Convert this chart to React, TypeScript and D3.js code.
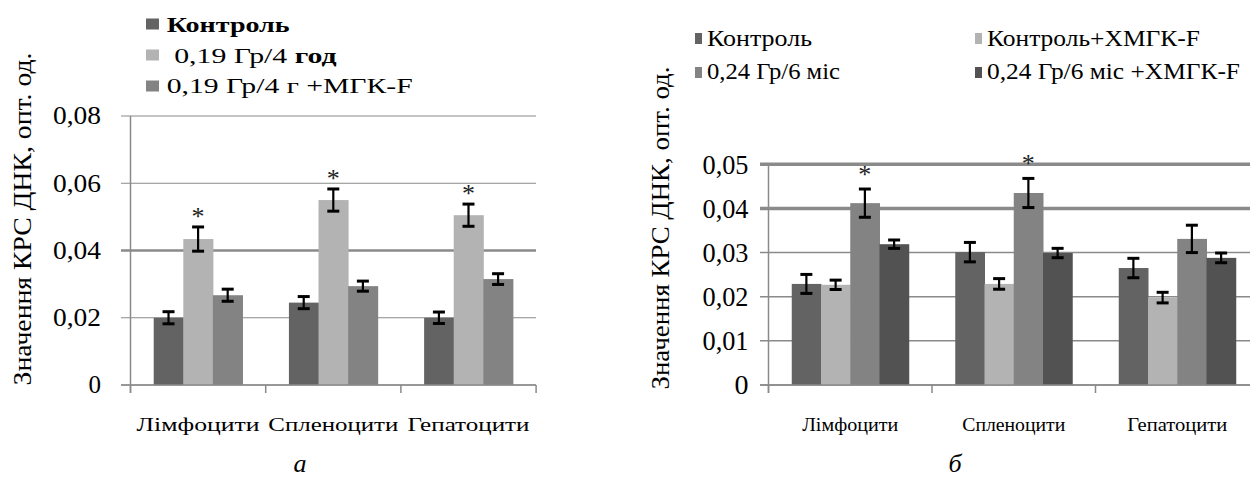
import React from 'react'
import * as d3 from 'd3'

// categories and series
const categories = ['Лімфоцити', 'Спленоцити', 'Гепатоцити']

const leftSeries = ['Контроль', ' 0,19 Гр/4 год', '0,19 Гр/4 г +МГК-F']
const leftValues = [
  [0.02, 0.0245, 0.02],
  [0.0434, 0.055, 0.0505],
  [0.0267, 0.0294, 0.0315],
]
const leftErrors = [
  [0.0018, 0.0018, 0.0017],
  [0.0036, 0.0033, 0.0033],
  [0.0018, 0.0015, 0.0016],
]
const leftStars = [
  [false, false, false],
  [true, true, true],
  [false, false, false],
]
const leftTicks = [0, 0.02, 0.04, 0.06, 0.08]
const leftTickLabels = ['0', '0,02', '0,04', '0,06', '0,08']

const rightSeries = ['Контроль', 'Контроль+ХМГК-F', '0,24 Гр/6 міс', '0,24 Гр/6 міс +ХМГК-F']
const rightValues = [
  [0.0229, 0.0301, 0.0265],
  [0.0227, 0.0229, 0.0198],
  [0.0412, 0.0435, 0.0331],
  [0.0319, 0.0299, 0.0288],
]
const rightErrors = [
  [0.00215, 0.0022, 0.0022],
  [0.00106, 0.0012, 0.0012],
  [0.0032, 0.0033, 0.0031],
  [0.00095, 0.00106, 0.0011],
]
const rightStars = [
  [false, false, false],
  [false, false, false],
  [true, true, false],
  [false, false, false],
]
const rightTicks = [0, 0.01, 0.02, 0.03, 0.04, 0.05]
const rightTickLabels = ['0', '0,01', '0,02', '0,03', '0,04', '0,05']

const yTitle = 'Значення КРС ДНК, опт. од.'

const leftColors = ['#636363', '#b3b3b3', '#838383']
const rightColors = ['#636363', '#b3b3b3', '#838383', '#525252']
const gridColor = '#8a8a8a'
const FONT = 'Liberation Serif'

type PanelProps = {
  values: number[][]
  errors: number[][]
  stars: boolean[][]
  colors: string[]
  ticks: number[]
  tickLabels: string[]
  thickTicks: number[]
  axisX: number
  bandW: number
  top: number
  bottom: number
  gridStart: number
  gridEnd: number
  groupPad: number
  tickLabelX: number
  tickFont: number
  tickLen: number
  thick: number
  thin: number
  starGap: number
  labelLens: number[]
  labelY: number
}

const Panel = (p: PanelProps) => {
  const y = d3.scaleLinear().domain([0, p.ticks[p.ticks.length - 1]]).range([p.bottom, p.top])
  const x0 = d3
    .scaleBand<string>()
    .domain(categories)
    .range([p.axisX, p.axisX + p.bandW * categories.length])
  const x1 = d3
    .scaleBand<number>()
    .domain(d3.range(p.values.length))
    .range([0, x0.bandwidth()])
    .paddingOuter(p.groupPad)
  const bw = x1.bandwidth()
  return (
    <g>
      {p.ticks.map((t, i) => (
        <g key={'t' + i}>
          <line
            x1={p.gridStart}
            x2={p.gridEnd}
            y1={y(t)}
            y2={y(t)}
            stroke={gridColor}
            strokeWidth={p.thickTicks.includes(t) ? p.thick : p.thin}
          />
          <text
            x={p.tickLabelX}
            y={y(t) + p.tickFont * 0.33}
            textAnchor='end'
            fontFamily={FONT}
            fontSize={p.tickFont}
            fill='#000'
            textLength={p.tickLabels[i].length > 1 ? p.tickLen : undefined}
            lengthAdjust='spacingAndGlyphs'
          >
            {p.tickLabels[i]}
          </text>
        </g>
      ))}
      <line x1={p.axisX} x2={p.axisX} y1={y(p.ticks[p.ticks.length - 1])} y2={p.bottom + 8} stroke={gridColor} strokeWidth={1.5} />
      {d3.range(categories.length + 1).map((i) => (
        <line
          key={'c' + i}
          x1={p.axisX + i * p.bandW}
          x2={p.axisX + i * p.bandW}
          y1={p.bottom}
          y2={p.bottom + 8}
          stroke={gridColor}
          strokeWidth={1.5}
        />
      ))}
      {p.values.map((row, s) =>
        row.map((v, c) => {
          const bx = (x0(categories[c]) as number) + (x1(s) as number)
          const cx = bx + bw / 2
          const e = p.errors[s][c]
          const yt = y(v + e)
          const yb = y(v - e)
          return (
            <g key={`b${s}-${c}`}>
              <rect x={bx} y={y(v)} width={bw + 0.5} height={p.bottom - y(v)} fill={p.colors[s]} />
              <line x1={cx} x2={cx} y1={yt} y2={yb} stroke='#000' strokeWidth={2.2} />
              <line x1={cx - 6} x2={cx + 6} y1={yt} y2={yt} stroke='#000' strokeWidth={3} />
              <line x1={cx - 6} x2={cx + 6} y1={yb} y2={yb} stroke='#000' strokeWidth={3} />
              {p.stars[s][c] && (
                <text x={cx} y={yt - p.starGap + 13} textAnchor='middle' fontFamily={FONT} fontSize={26} fill='#222'>
                  *
                </text>
              )}
            </g>
          )
        })
      )}
      <line x1={p.gridStart} x2={p.gridEnd} y1={p.bottom} y2={p.bottom} stroke={gridColor} strokeWidth={1.5} />
      {categories.map((c, i) => (
        <text
          key={'l' + i}
          x={(x0(c) as number) + p.bandW / 2}
          y={p.labelY}
          textAnchor='middle'
          fontFamily={FONT}
          fontSize={19}
          textLength={p.labelLens[i]}
          lengthAdjust='spacingAndGlyphs'
        >
          {c}
        </text>
      ))}
    </g>
  )
}

const App = () => {
  return (
    <svg width={1250} height={479} style={{ position: 'absolute', left: 0, top: 0, background: '#fff' }}>
      <rect width={1250} height={479} fill='#fff' />
      {/* panel а */}
      <Panel
        values={leftValues}
        errors={leftErrors}
        stars={leftStars}
        colors={leftColors}
        ticks={leftTicks}
        tickLabels={leftTickLabels}
        thickTicks={[0.04]}
        axisX={130.5}
        bandW={135.2}
        top={116}
        bottom={385}
        gridStart={121}
        gridEnd={536}
        groupPad={0.785}
        tickLabelX={101}
        tickFont={25}
        tickLen={48}
        thick={2.5}
        thin={1.2}
        starGap={15}
        labelLens={[123, 130, 122]}
        labelY={431}
      />
      <text
        transform='translate(31,219) rotate(-90)'
        textAnchor='middle'
        fontFamily={FONT}
        fontSize={25}
        textLength={333}
        lengthAdjust='spacingAndGlyphs'
      >
        {yTitle}
      </text>
      {leftSeries.map((s, i) => (
        <g key={'ls' + i}>
          <rect x={146} y={18.5 + i * 31} width={13} height={11} fill={leftColors[i]} />
          <text
            x={166.7}
            y={32 + i * 30.7}
            fontFamily={FONT}
            style={{ whiteSpace: 'pre' }}
            fontSize={21}
            fontWeight={i === 0 ? 'bold' : 'normal'}
            textLength={[123, 170, 246][i]}
            lengthAdjust='spacingAndGlyphs'
          >
            {i === 1 ? (
              <>
                {s.replace(' год', ' ')}
                <tspan fontWeight='bold'>год</tspan>
              </>
            ) : (
              s
            )}
          </text>
        </g>
      ))}
      <text x={300} y={472} textAnchor='middle' fontFamily={FONT} fontSize={26} fontStyle='italic'>
        а
      </text>

      {/* panel б */}
      <Panel
        values={rightValues}
        errors={rightErrors}
        stars={rightStars}
        colors={rightColors}
        ticks={rightTicks}
        tickLabels={rightTickLabels}
        thickTicks={[0.04, 0.05]}
        axisX={768.5}
        bandW={163.5}
        top={164.3}
        bottom={385}
        gridStart={760}
        gridEnd={1250}
        groupPad={0.795}
        tickLabelX={748.5}
        tickFont={28}
        tickLen={46}
        thick={3.5}
        thin={1.5}
        starGap={19}
        labelLens={[96, 103, 100]}
        labelY={431}
      />
      <text
        transform='translate(669,228) rotate(-90)'
        textAnchor='middle'
        fontFamily={FONT}
        fontSize={26}
        textLength={323}
        lengthAdjust='spacingAndGlyphs'
      >
        {yTitle}
      </text>
      {rightSeries.map((s, i) => {
        const col = i % 2
        const row = i < 2 ? 0 : 1
        const sx = col === 0 ? 695 : 975
        return (
          <g key={'rs' + i}>
            <rect x={sx} y={33 + row * 34} width={7} height={11} fill={rightColors[i]} />
            <text
              x={sx + 12}
              y={46 + row * 33}
              fontFamily={FONT}
              fontSize={23}
              textLength={[105, 213, 133, 253][i]}
              lengthAdjust='spacingAndGlyphs'
            >
              {s}
            </text>
          </g>
        )
      })}
      <text x={955} y={472} textAnchor='middle' fontFamily={FONT} fontSize={26} fontStyle='italic'>
        б
      </text>
    </svg>
  )
}

export default App
